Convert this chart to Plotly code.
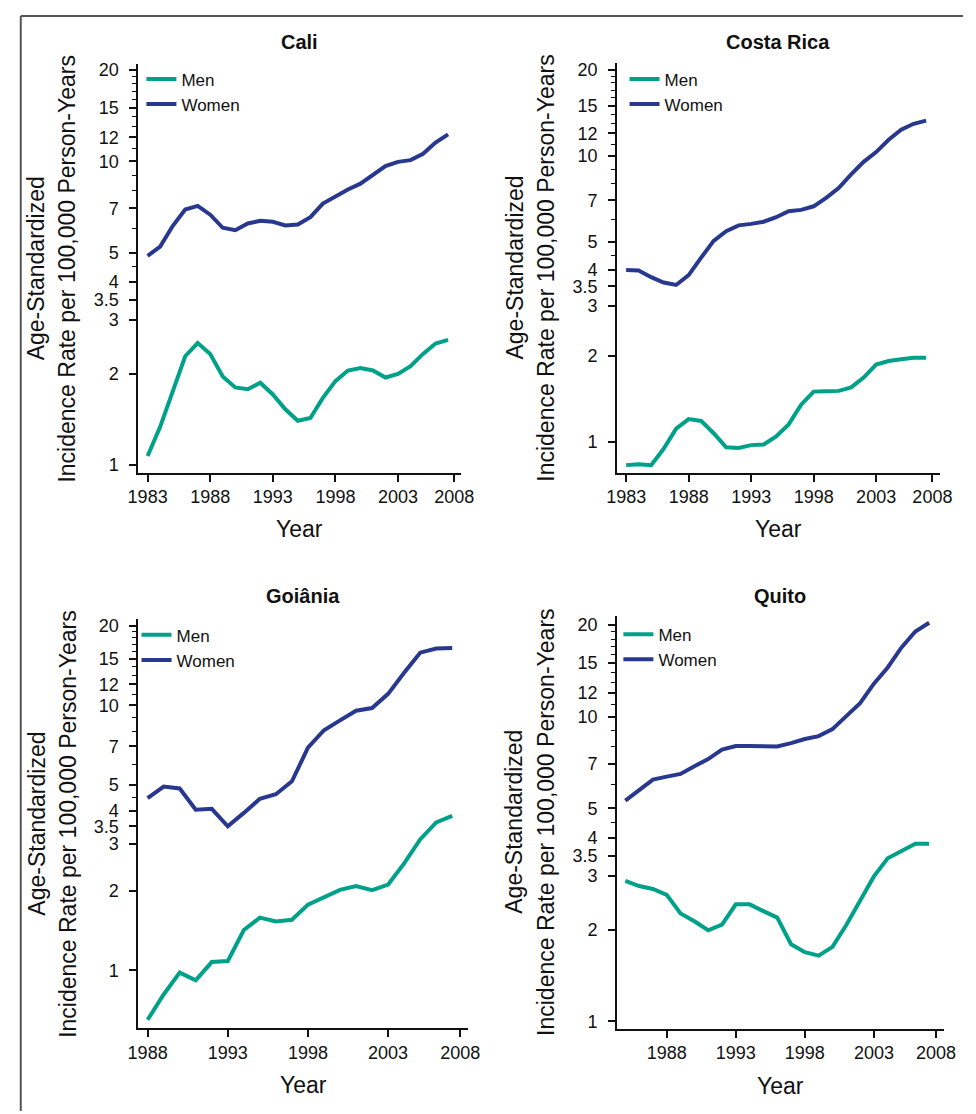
import plotly.graph_objects as go

# ---------------- data ----------------
cali_years = list(range(1983, 2008))
cali_men = [1.07, 1.335, 1.744, 2.28, 2.52, 2.32, 1.956, 1.80, 1.776, 1.864, 1.706, 1.525, 1.397,
            1.427, 1.662, 1.888, 2.046, 2.085, 2.046, 1.94, 1.993, 2.113, 2.32, 2.51, 2.58]
cali_women = [4.88, 5.24, 6.12, 6.94, 7.13, 6.67, 6.04, 5.93, 6.24, 6.37, 6.32, 6.15, 6.19,
              6.55, 7.26, 7.66, 8.08, 8.44, 9.02, 9.64, 9.96, 10.09, 10.59, 11.53, 12.27]

cr_years = list(range(1983, 2008))
cr_men = [0.83, 0.836, 0.83, 0.947, 1.114, 1.202, 1.185, 1.073, 0.958, 0.953, 0.975, 0.980, 1.046,
          1.152, 1.351, 1.50, 1.504, 1.509, 1.552, 1.68, 1.866, 1.92, 1.948, 1.97, 1.97]
cr_women = [3.99, 3.98, 3.77, 3.61, 3.54, 3.83, 4.41, 5.05, 5.46, 5.72, 5.79, 5.89, 6.11,
            6.41, 6.48, 6.67, 7.14, 7.73, 8.63, 9.54, 10.32, 11.40, 12.35, 12.96, 13.29]

goi_years = list(range(1988, 2008))
goi_men = [0.652, 0.812, 0.982, 0.918, 1.076, 1.086, 1.422, 1.582, 1.53, 1.554, 1.772, 1.896,
           2.015, 2.084, 2.01, 2.11, 2.535, 3.12, 3.62, 3.83]
goi_women = [4.47, 4.94, 4.86, 4.04, 4.07, 3.50, 3.93, 4.44, 4.62, 5.17, 6.92, 8.06, 8.78,
             9.54, 9.77, 11.05, 13.27, 15.80, 16.39, 16.44]

qui_years = list(range(1985, 2008))
qui_men = [2.89, 2.78, 2.72, 2.60, 2.26, 2.13, 1.99, 2.075, 2.42, 2.42, 2.30, 2.19, 1.79, 1.686,
           1.642, 1.755, 2.07, 2.48, 2.99, 3.43, 3.62, 3.83, 3.83]
qui_women = [5.30, 5.75, 6.22, 6.36, 6.49, 6.88, 7.26, 7.80, 8.01, 8.01, 7.97, 7.99, 8.19, 8.45,
             8.64, 9.11, 10.05, 11.09, 12.85, 14.52, 16.90, 19.06, 20.37]

titles = ["Cali", "Costa Rica", "Goiânia", "Quito"]
series_names = ["Men", "Women"]

ytick_vals = [1, 2, 3, 3.5, 4, 5, 7, 10, 12, 15, 20]
ytick_text = ["1", "2", "3", "3.5", "4", "5", "7", "10", "12", "15", "20"]
yminor_vals = [4.5, 6, 8, 9, 11, 13, 14, 16, 17, 18, 19]

xtick_vals_a = [1983, 1988, 1993, 1998, 2003, 2007.5]
xtick_text_a = ["1983", "1988", "1993", "1998", "2003", "2008"]
xtick_vals_b = [1988, 1993, 1998, 2003, 2007.5]
xtick_text_b = ["1988", "1993", "1998", "2003", "2008"]

ytitle_1 = "Age-Standardized"
ytitle_2 = "Incidence Rate per 100,000 Person-Years"
xtitle = "Year"

# ---------------- styling / layout ----------------
W, H = 976, 1114
MEN_COLOR = "#00A189"
WOMEN_COLOR = "#29388F"
FONT = "Liberation Sans, Arial, sans-serif"
INK = "#111111"


def px(x):
    return x / W


def py(y):
    return 1 - y / H


# panel geometry in pixels: (left, right, top, bottom), x range, y range (log10)
panels = [
    dict(box=(130.7, 461.7, 60.3, 471.6), xr=[1982.27, 2008.06], yr=[-0.0255, 1.3208],
         xt=(xtick_vals_a, xtick_text_a), leg=(133.7, 57.7), ty=38.5, yt=528.5),
    dict(box=(621.3, 952.3, 59.6, 471.6), xr=[1982.27, 2008.10], yr=[-0.1072, 1.3244],
         xt=(xtick_vals_a, xtick_text_a), leg=(629.0, 57.7), ty=38.5, yt=528.5),
    dict(box=(130.7, 468.3, 619.1, 1030.4), xr=[1987.43, 2007.97], yr=[-0.2166, 1.3249],
         xt=(xtick_vals_b, xtick_text_b), leg=(128.7, 617.2), ty=595.5, yt=1088.0),
    dict(box=(621.3, 956.3, 615.5, 1031.1), xr=[1984.40, 2008.06], yr=[-0.0243, 1.3322],
         xt=(xtick_vals_b, xtick_text_b), leg=(622.7, 616.5), ty=595.5, yt=1088.5),
]

data = [
    (cali_years, cali_men, cali_women),
    (cr_years, cr_men, cr_women),
    (goi_years, goi_men, goi_women),
    (qui_years, qui_men, qui_women),
]

fig = go.Figure()
annotations = []
layout = dict(
    width=W, height=H,
    margin=dict(l=0, r=0, t=0, b=0),
    paper_bgcolor="white", plot_bgcolor="white",
    font=dict(family=FONT, color=INK),
    showlegend=True,
)

for i, (p, (yrs, men, women)) in enumerate(zip(panels, data)):
    n = "" if i == 0 else str(i + 1)
    legname = "legend" + n
    left, right, top, bottom = p["box"]
    fig.add_trace(go.Scatter(x=yrs, y=men, name=series_names[0], mode="lines",
                             line=dict(color=MEN_COLOR, width=4),
                             xaxis="x" + n, yaxis="y" + n, legend=legname))
    fig.add_trace(go.Scatter(x=yrs, y=women, name=series_names[1], mode="lines",
                             line=dict(color=WOMEN_COLOR, width=4),
                             xaxis="x" + n, yaxis="y" + n, legend=legname))

    layout["xaxis" + n] = dict(
        domain=[px(left), px(right)], range=p["xr"], anchor="y" + n,
        showline=True, linecolor=INK, linewidth=2,
        showgrid=False, zeroline=False,
        ticks="outside", ticklen=7, tickwidth=1.5, tickcolor=INK,
        tickmode="array", tickvals=p["xt"][0], ticktext=p["xt"][1],
        tickfont=dict(family=FONT, size=18, color=INK),
        ticklabelstandoff=0,
    )
    layout["yaxis" + n] = dict(
        domain=[py(bottom), py(top)], type="log", range=p["yr"], anchor="x" + n,
        showline=True, linecolor=INK, linewidth=2,
        showgrid=False, zeroline=False,
        ticks="outside", ticklen=7, tickwidth=1.5, tickcolor=INK,
        tickmode="array", tickvals=ytick_vals, ticktext=ytick_text,
        tickfont=dict(family=FONT, size=18, color=INK),
        ticklabelstandoff=7,
        minor=dict(tickmode="array", tickvals=yminor_vals, ticks="outside",
                   ticklen=4, tickwidth=1, tickcolor=INK, showgrid=False),
    )
    lx, ly = p["leg"]
    layout[legname] = dict(
        x=px(lx), y=py(ly), xanchor="left", yanchor="top",
        bgcolor="rgba(0,0,0,0)", borderwidth=0,
        font=dict(family=FONT, size=17, color=INK),
    )

    cx = (left + right) / 2
    cy = (top + bottom) / 2
    annotations.append(dict(text="<b>" + titles[i] + "</b>", x=px(cx), y=py(p["ty"]),
                            xref="paper", yref="paper", showarrow=False,
                            xanchor="center", yanchor="middle",
                            font=dict(family=FONT, size=20, color=INK)))
    annotations.append(dict(text=xtitle, x=px(cx), y=py(p["yt"]),
                            xref="paper", yref="paper", showarrow=False,
                            xanchor="center", yanchor="middle",
                            font=dict(family=FONT, size=23, color=INK)))
    annotations.append(dict(text=ytitle_1, x=px(left - 105), y=py(cy),
                            xref="paper", yref="paper", showarrow=False, textangle=-90,
                            xanchor="center", yanchor="middle",
                            font=dict(family=FONT, size=23, color=INK)))
    annotations.append(dict(text=ytitle_2, x=px(left - 73), y=py(cy),
                            xref="paper", yref="paper", showarrow=False, textangle=-90,
                            xanchor="center", yanchor="middle",
                            font=dict(family=FONT, size=23, color=INK)))

layout["annotations"] = annotations
layout["shapes"] = [
    dict(type="line", xref="paper", yref="paper", x0=px(10), x1=1, y0=py(12), y1=py(12),
         line=dict(color="#555555", width=2)),
    dict(type="line", xref="paper", yref="paper", x0=px(10), x1=px(10), y0=py(12), y1=0,
         line=dict(color="#555555", width=2)),
]

fig.update_layout(**layout)
fig.write_html(
    "out.html",
    config={"displayModeBar": False},
    post_script="document.body.style.margin='0';document.body.style.overflow='hidden';",
)
